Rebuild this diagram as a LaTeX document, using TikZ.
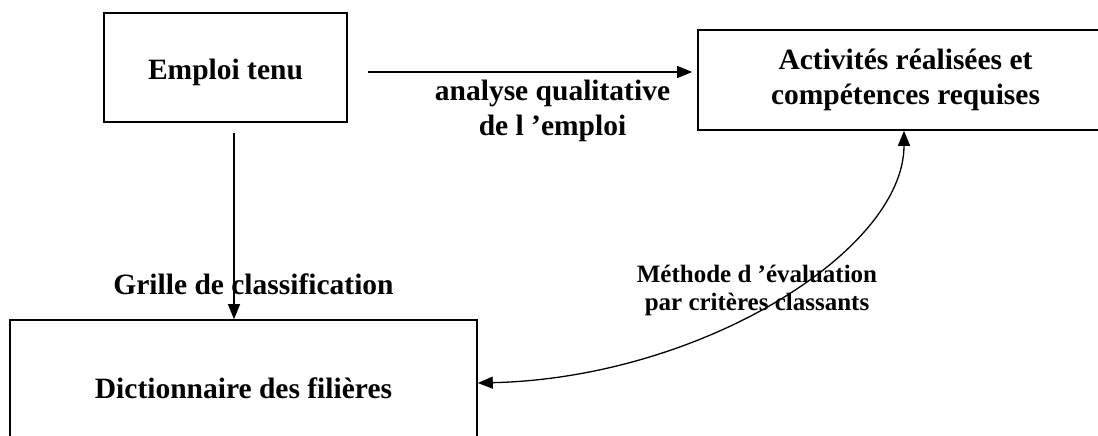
\documentclass[tikz,border=0pt]{standalone}
\usepackage{fontspec}
\setmainfont{Liberation Serif}
\usetikzlibrary{arrows.meta}
\tikzset{
  boxnode/.style={draw, line width=1.6pt, inner sep=0pt, align=center,
    font=\fontsize{29.5}{35}\selectfont\bfseries},
  lbl/.style={inner sep=0pt, align=center,
    font=\fontsize{29.5}{35}\selectfont\bfseries},
  smalllbl/.style={inner sep=0pt, align=center,
    font=\fontsize{25}{28}\selectfont\bfseries},
  arr/.style={line width=1.3pt, -{Triangle[length=15pt,width=12pt]}},
  arrboth/.style={line width=1.3pt, {Triangle[length=15pt,width=12pt]}-{Triangle[length=15pt,width=12pt]}}
}
\begin{document}
\begin{tikzpicture}[x=1pt,y=-1pt]
\useasboundingbox (0,0) rectangle (1098,436);
\fill[white] (0,0) rectangle (1098,436);
\clip (0,0) rectangle (1098,436);

\node[boxnode, minimum width=243pt, minimum height=109pt, text height=31pt, text depth=6pt]
  (emp) at (225.5,67.5) {Emploi tenu};
\node[boxnode, minimum width=415pt, minimum height=100pt]
  (act) at (905.5,80) {Activités réalisées et\\compétences requises};
\node[boxnode, minimum width=467pt, minimum height=136pt]
  (dict) at (243.5,388) {Dictionnaire des filières};

\node[lbl] (lanalyse) at (552.5,110.5) {analyse qualitative\\de l ’emploi};
\node[lbl] (lgrille) at (253.5,284) {Grille de classification};
\node[smalllbl] (lmethode) at (757,290) {Méthode d ’évaluation\\par critères classants};

\draw[arr, shorten >=5pt] ([xshift=20pt,yshift=-4.5pt]emp.east) -- ([yshift=-4.5pt]emp.east -| act.west);
\draw[arr, shorten <=10pt] ([xshift=8.5pt]emp.south) -- ([xshift=8.5pt]emp.south |- dict.north);
\draw[arrboth] ([xshift=-1.5pt]act.south) .. controls +(0,120) and +(223,-5) .. ([yshift=5pt]dict.east);
\end{tikzpicture}
\end{document}
